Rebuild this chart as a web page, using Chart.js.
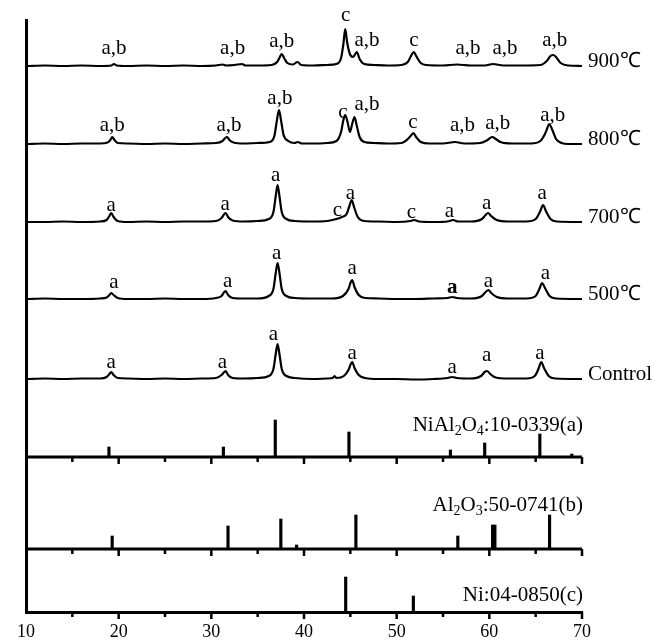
<!DOCTYPE html>
<html>
<head>
<meta charset="utf-8">
<script src="https://cdn.jsdelivr.net/npm/chart.js@4.4.0/dist/chart.umd.min.js"></script>
<style>
  html, body { margin: 0; padding: 0; background: #fff; }
  #wrap { width: 654px; height: 642px; position: relative; }
</style>
</head>
<body>
<div id="wrap"><canvas id="xrd"></canvas></div>
<script>
// ---- data: 2-theta (deg) vs intensity (a.u.) ----
const xTicks = [10, 20, 30, 40, 50, 60, 70];

const trace900 = [[10,0],[12,0.5],[14,0],[16,0.5],[18,0],[19.2,0.5],[19.5,2],[19.8,0.5],[21,0],[23,0.5],[25,0],[27,0.5],[29,0],[30.5,0.5],[31.2,1.5],[31.6,0.5],[32.5,1],[33.3,2],[33.7,0.5],[35,0.5],[36.5,1],[37.1,4],[37.4,9],[37.6,12],[37.85,8],[38.2,3],[38.8,1.5],[39.3,4],[39.7,1],[41,0.5],[42.5,1],[43.5,2],[44.0,8],[44.25,22],[44.45,37],[44.65,24],[44.95,12],[45.3,9],[45.7,14],[46.0,7],[46.5,2],[47.5,1],[49,0.5],[50.5,1],[51.2,4],[51.6,11],[51.85,14],[52.1,10],[52.6,3],[53.2,1],[55,0.5],[56.5,1.5],[58,0.5],[59.5,0.5],[60.4,2],[61.5,0.5],[63.5,0.5],[65.5,1],[66.2,5],[66.6,10],[66.9,11],[67.2,9],[67.7,3],[68.5,0.5],[70,0]];
const trace800 = [[10,0],[12,0.5],[14,0],[16,0.5],[18,0.5],[18.8,1.5],[19.1,4],[19.3,7],[19.55,4],[19.9,1],[21,0.5],[23,0],[25,0.5],[27,0],[29,0.5],[30.5,1],[31.2,3],[31.5,6],[31.7,7],[31.95,4],[32.4,1.5],[33.5,0.5],[35,1],[36.3,2],[36.8,8],[37.05,22],[37.3,34],[37.55,22],[37.8,9],[38.3,3],[39,1],[39.3,2],[39.8,0.5],[41,0.5],[42.5,1],[43.5,3],[44.0,12],[44.25,24],[44.45,29],[44.7,22],[44.95,12],[45.2,20],[45.45,27],[45.7,18],[46.0,7],[46.5,2],[47.5,1],[49,0.5],[50.5,1],[51.2,5],[51.6,9],[51.8,11],[52.1,7],[52.6,2],[53.5,0.5],[55,0.5],[56.3,2],[57.3,0.5],[59,1],[59.8,4],[60.3,7],[60.7,5],[61.2,2],[62.5,0.5],[64.5,0.5],[65.5,3],[66.0,10],[66.3,17],[66.45,20],[66.8,14],[67.2,5],[67.8,1],[68.5,0],[70,0]];
const trace700 = [[10,0],[12,0],[14,0.5],[16,0],[18,0.5],[18.7,2],[19.0,6],[19.2,9],[19.45,5],[19.9,1],[21,0],[23,0.5],[25,0],[27,0.5],[29,0.5],[30.5,1],[31.1,4],[31.4,8],[31.55,9],[31.8,5],[32.3,1.5],[33.5,0.5],[35,1],[36.2,3],[36.7,10],[36.95,26],[37.15,37],[37.35,26],[37.6,10],[38.1,3],[39,1],[41,0.5],[42.5,1],[43.5,3],[44.1,5],[44.6,8],[44.9,16],[45.15,22],[45.4,15],[45.8,5],[46.5,1],[48,0.5],[50,0],[51.5,1],[51.9,2],[52.4,0.5],[54,0],[55.5,0.5],[56.1,2],[56.6,0.5],[58,0.5],[59.2,3],[59.6,7],[59.85,9],[60.2,6],[60.8,2],[62,0.5],[64,0.5],[65.0,3],[65.5,11],[65.8,17],[66.1,11],[66.6,3],[67.3,0.5],[70,0]];
const trace500 = [[10,0],[12,0.5],[14,0],[16,0],[18,0.5],[18.7,1.5],[19.0,4],[19.2,6],[19.45,4],[19.9,1],[21,0],[23,0],[25,0.5],[27,0],[29,0],[30.5,1],[31.1,3],[31.4,7],[31.55,8],[31.8,4],[32.3,1],[33.5,0.5],[35,0.5],[36.2,3],[36.7,10],[36.95,26],[37.15,36],[37.35,26],[37.6,10],[38.1,3],[39,1],[41,0.5],[43,0.5],[44.2,3],[44.8,10],[45.05,17],[45.2,19],[45.45,12],[45.9,4],[46.6,1],[48,0.5],[50,0],[52,0],[54,0.5],[55.5,1],[56.0,2],[56.5,1],[58,0.5],[59.2,3],[59.6,7],[59.9,9],[60.2,6],[60.8,2],[62,0.5],[64,0.5],[65.0,3],[65.4,10],[65.7,16],[66.0,11],[66.5,3],[67.2,0.5],[70,0]];
const traceControl = [[10,0],[12,0.5],[14,0],[16,0.5],[18,0.5],[18.7,2],[19.0,5],[19.2,7],[19.45,4],[19.9,1],[21,0.5],[23,0],[25,0.5],[27,0],[29,0.5],[30.5,1],[31.1,4],[31.4,7],[31.55,8],[31.8,4],[32.3,1],[33.5,0.5],[35,1],[36.2,3],[36.7,10],[36.95,25],[37.15,35],[37.35,25],[37.6,10],[38.1,3],[39,1],[41,0],[42.5,0.5],[43.1,1],[43.3,3],[43.5,1],[44.3,3],[44.8,9],[45.05,15],[45.2,17],[45.45,11],[45.9,4],[46.6,1],[48,0],[50,0],[52,-0.5],[54,0],[55.5,1],[56.0,2],[56.5,1],[58,0.5],[59.1,3],[59.5,7],[59.75,8],[60.1,5],[60.7,1.5],[62,0.5],[64,0.5],[64.9,3],[65.3,10],[65.6,17],[65.9,11],[66.4,3],[67.1,0.5],[70,0]];

// reference cards (stick patterns): positions and relative heights
const nial2o4Pos = [18.95, 31.3, 36.9, 44.85, 55.8, 59.5, 65.45, 68.9];
const nial2o4Int = [10, 10, 37, 25, 7, 14, 23, 3];
const al2o3Pos = [19.3, 31.8, 37.5, 39.2, 45.6, 56.6, 60.35, 60.6, 66.5];
const al2o3Int = [13, 23, 30, 4, 34, 13, 24, 24, 34];
const niPos = [44.5, 51.8];
const niInt = [35, 16];

// phase marks: [2theta, height above baseline, text]
const marks900 = [[19.5,18,'a,b'],[32.3,18,'a,b'],[37.6,25,'a,b'],[44.5,51,'c'],[46.8,26,'a,b'],[51.85,26,'c'],[57.7,18,'a,b'],[61.7,18,'a,b'],[67.05,26,'a,b']];
const marks800 = [[19.3,19,'a,b'],[31.9,19,'a,b'],[37.4,46,'a,b'],[44.2,32,'c'],[46.8,40,'a,b'],[51.75,22,'c'],[57.1,19,'a,b'],[60.9,21,'a,b'],[66.85,29,'a,b']];
const marks700 = [[19.2,17,'a'],[31.5,18,'a'],[36.95,47,'a'],[43.6,12,'c'],[45.0,29,'a'],[51.6,10,'c'],[55.7,11,'a'],[59.7,19,'a'],[65.7,29,'a']];
const marks500 = [[19.5,17,'a'],[31.75,18,'a'],[37.05,46,'a'],[45.2,31,'a'],[56.0,11,'a*'],[59.9,18,'a'],[66.05,26,'a']];
const marksControl = [[19.2,17,'a'],[31.2,17,'a'],[36.7,45,'a'],[45.2,26,'a'],[56.0,12,'a'],[59.7,24,'a'],[65.45,26,'a']];

const sampleNames = ['900℃', '800℃', '700℃', '500℃', 'Control'];
const cardNames = [
    ['NiAl', '_2', 'O', '_4', ':10-0339(a)'],
    ['Al', '_2', 'O', '_3', ':50-0741(b)'],
    ['Ni:04-0850(c)'],
];

// ---- layout: vertical offsets of each panel (y units) ----
const offsets = { c900: 546, c800: 468, c700: 390, c500: 313, control: 233, nial2o4: 155, al2o3: 63, ni: 0 };
const serif = '"Liberation Serif", "Times New Roman", serif';
const labelFont = `21px ${serif}`;

const samples = [
    { data: trace900, off: offsets.c900, marks: marks900 },
    { data: trace800, off: offsets.c800, marks: marks800 },
    { data: trace700, off: offsets.c700, marks: marks700 },
    { data: trace500, off: offsets.c500, marks: marks500 },
    { data: traceControl, off: offsets.control, marks: marksControl },
];
const cards = [
    { pos: nial2o4Pos, int: nial2o4Int, off: offsets.nial2o4, name: cardNames[0], dy: 32 },
    { pos: al2o3Pos, int: al2o3Int, off: offsets.al2o3, name: cardNames[1], dy: 44 },
    { pos: niPos, int: niInt, off: offsets.ni, name: cardNames[2], dy: 17 },
];

const datasets = [];
samples.forEach((s) => {
    datasets.push({
        type: "line",
        data: s.data.map(([x, y]) => ({ x, y: y + s.off })),
        borderColor: "#000",
        borderWidth: 2.2,
        pointRadius: 0,
        cubicInterpolationMode: "monotone",
    });
});
cards.forEach((c) => {
    datasets.push({
        type: "bar",
        data: c.pos.map((x, i) => ({ x, y: [c.off, c.off + c.int[i]] })),
        backgroundColor: "#000",
        barThickness: 2.5,
        grouped: false,
    });
});

function drawRich(ctx, parts, xRight, y) {
    const sub = `14px ${serif}`;
    let total = 0;
    parts.forEach((p) => {
        ctx.font = p[0] === "_" ? sub : labelFont;
        total += ctx.measureText(p.replace(/^_/, "")).width;
    });
    let x = xRight - total;
    ctx.textAlign = "left";
    parts.forEach((p) => {
        const isSub = p[0] === "_";
        const t = p.replace(/^_/, "");
        ctx.font = isSub ? sub : labelFont;
        ctx.fillText(t, x, isSub ? y + 6 : y);
        x += ctx.measureText(t).width;
    });
}

const annotations = {
    id: "annotations",
    afterDatasetsDraw(chart) {
        const { ctx, chartArea, scales } = chart;
        const xs = scales.x, ys = scales.y;
        ctx.save();
        ctx.fillStyle = "#000";
        ctx.strokeStyle = "#000";

        // axis lines of the upper two reference panels + tick marks on all three
        [offsets.nial2o4, offsets.al2o3, offsets.ni].forEach((off) => {
            const py = ys.getPixelForValue(off);
            if (off !== offsets.ni) {
                ctx.lineWidth = 3;
                ctx.beginPath();
                ctx.moveTo(chartArea.left, py);
                ctx.lineTo(xs.getPixelForValue(70), py);
                ctx.stroke();
            }
            ctx.lineWidth = 2.5;
            for (let v = 15; v <= 70; v += 5) {
                const px = xs.getPixelForValue(v);
                const len = v % 10 === 0 ? 7 : 5;
                ctx.beginPath();
                ctx.moveTo(px, py);
                ctx.lineTo(px, py + len);
                ctx.stroke();
            }
        });

        // phase marks
        ctx.textAlign = "center";
        ctx.textBaseline = "middle";
        samples.forEach((s) => {
            s.marks.forEach(([x, h, t]) => {
                const bold = t.endsWith("*");
                ctx.font = (bold ? "bold " : "") + labelFont;
                ctx.fillText(t.replace("*", ""), xs.getPixelForValue(x), ys.getPixelForValue(s.off + h));
            });
        });

        // sample names
        ctx.textAlign = "left";
        ctx.font = labelFont;
        samples.forEach((s, i) => {
            ctx.fillText(sampleNames[i], chartArea.right + 6, ys.getPixelForValue(s.off + 5));
        });

        // card names
        cards.forEach((c) => {
            drawRich(ctx, c.name, chartArea.right + 1, ys.getPixelForValue(c.off + c.dy));
        });
        ctx.restore();
    },
};

new Chart(document.getElementById("xrd"), {
    type: "line",
    data: { datasets },
    options: {
        responsive: true,
        maintainAspectRatio: false,
        animation: false,
        layout: { padding: { left: 26, right: 72, top: 20, bottom: 0 } },
        plugins: { legend: { display: false }, tooltip: { enabled: false } },
        scales: {
            x: {
                type: "linear",
                min: 10,
                max: 70,
                offset: false,
                afterBuildTicks: (s) => { s.ticks = xTicks.map((v) => ({ value: v })); },
                afterFit: (s) => { s.height = 30; },
                ticks: {
                    color: "#000",
                    font: { family: serif, size: 18 },
                    padding: 9,
                    maxRotation: 0,
                },
                grid: { display: false, drawTicks: false },
                border: { display: true, color: "#000", width: 3 },
            },
            y: {
                min: 0,
                max: 592,
                afterFit: (s) => { s.width = 0; },
                ticks: { display: false },
                grid: { display: false, drawTicks: false },
                border: { display: true, color: "#000", width: 3 },
            },
        },
    },
    plugins: [annotations],
});
</script>
</body>
</html>
